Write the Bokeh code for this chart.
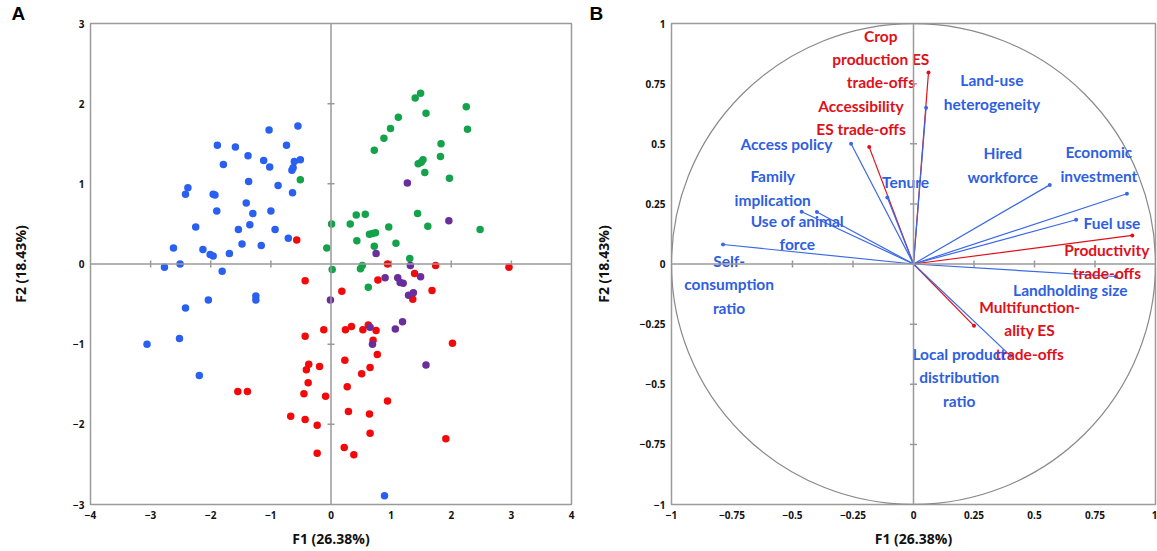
import math
from bokeh.plotting import figure
from bokeh.models import FixedTicker, CustomJSTickFormatter, Range1d, Span
from bokeh.layouts import row
from bokeh.core.properties import value
from bokeh.embed import file_html
from bokeh.resources import INLINE

# ---------------- Panel A data: observation scores (F1, F2) ----------------
blue_x = [-1.03, -0.55, -1.89, -1.59, -0.74, -1.38, -1.12, -1.02, -0.61, -0.51, -1.79, -0.65, -0.63,
          -1.37, -2.38, -2.42, -1.96, -1.93, -0.88, -0.64, -1.41, -1.90, -1.30, -1.00, -2.25, -1.54,
          -1.35, -0.93, -0.71, -2.62, -2.13, -2.01, -1.96, -1.69, -1.48, -1.16, -2.77, -2.51, -1.81,
          -2.04, -1.25, -1.25, -2.42, -2.52, -3.06, -2.19, 0.89]
blue_y = [1.67, 1.72, 1.48, 1.46, 1.48, 1.35, 1.29, 1.21, 1.28, 1.30, 1.24, 1.17, 1.20,
          1.03, 0.95, 0.87, 0.87, 0.86, 0.98, 0.89, 0.76, 0.66, 0.63, 0.66, 0.46, 0.43,
          0.49, 0.43, 0.32, 0.20, 0.18, 0.12, 0.10, 0.13, 0.25, 0.23, -0.04, 0.00, -0.09,
          -0.45, -0.40, -0.45, -0.55, -0.93, -1.00, -1.39, -2.89]

green_x = [-0.51, 0.01, -0.07, 0.02, 1.31, 0.52, 0.49, 0.62, 1.49, 1.40, 2.25, 1.58, 1.12, 0.99,
           0.88, 2.27, 0.72, 1.83, 1.82, 1.45, 1.50, 1.53, 1.56, 1.97, 1.44, 1.61, 2.48, 0.32,
           0.42, 0.57, 0.96, 0.64, 0.69, 0.74, 0.43, 1.08, 0.72]
green_y = [1.05, 0.50, 0.20, -0.07, 0.07, -0.02, -0.06, -0.29, 2.13, 2.07, 1.96, 1.88, 1.83, 1.69,
           1.57, 1.68, 1.42, 1.50, 1.34, 1.25, 1.27, 1.30, 1.14, 1.07, 0.63, 0.47, 0.43, 0.50,
           0.61, 0.62, 0.46, 0.37, 0.38, 0.39, 0.29, 0.26, 0.22]

red_x = [-0.57, 0.94, 1.74, 2.96, -0.43, 0.78, 1.39, 0.18, 1.68, 1.36, -0.12, 0.24, 0.34, 0.53,
         0.62, 0.75, -0.43, 0.70, 2.02, 0.77, 0.23, -0.37, -0.41, -0.19, 0.65, 0.51, -0.38, 0.27,
         -1.55, -1.39, -0.45, -0.09, 0.94, -0.67, -0.43, -0.23, 0.29, 0.64, 0.65, 1.91, -0.23,
         0.22, 0.38]
red_y = [0.30, 0.00, -0.02, -0.04, -0.21, -0.20, -0.12, -0.34, -0.33, -0.44, -0.82, -0.82, -0.78,
         -0.82, -0.76, -0.83, -0.90, -0.95, -0.99, -1.13, -1.20, -1.25, -1.32, -1.28, -1.29, -1.37,
         -1.48, -1.53, -1.59, -1.59, -1.62, -1.65, -1.71, -1.90, -1.94, -2.01, -1.84, -1.87, -2.11,
         -2.18, -2.36, -2.29, -2.38]

purple_x = [1.27, 1.96, 0.75, 1.32, 0.90, 1.49, 1.11, 1.15, 1.20, 1.29, 1.37, -0.01, 0.65, 1.07,
            1.19, 0.69, 1.58]
purple_y = [1.01, 0.54, 0.13, -0.02, -0.17, -0.16, -0.17, -0.23, -0.24, -0.39, -0.36, -0.45, -0.79,
            -0.81, -0.72, -1.00, -1.26]

# ---------------- Panel B data: variable loadings ----------------
var_labels = ["Crop\nproduction ES\ntrade-offs", "Land-use\nheterogeneity", "Accessibility\nES trade-offs",
              "Access policy", "Tenure", "Family\nimplication", "Use of animal\nforce",
              "Self-\nconsumption\nratio", "Hired\nworkforce", "Economic\ninvestment", "Fuel use",
              "Productivity\ntrade-offs", "Landholding size", "Multifunction-\nality ES\ntrade-offs",
              "Local product\ndistribution\nratio"]
var_f1 = [0.062, 0.052, -0.183, -0.258, -0.108, -0.462, -0.399, -0.787, 0.563, 0.882, 0.672, 0.904,
          0.836, 0.250, 0.400]
var_f2 = [0.796, 0.650, 0.486, 0.500, 0.276, 0.217, 0.216, 0.081, 0.329, 0.292, 0.184, 0.119,
          -0.052, -0.257, -0.381]
var_is_tradeoff = [True, False, True, False, False, False, False, False, False, False, False, True,
                   False, True, False]

x_ticks_a = [-4, -3, -2, -1, 0, 1, 2, 3, 4]
y_ticks_a = [-3, -2, -1, 0, 1, 2, 3]
ticks_b = [-1, -0.75, -0.5, -0.25, 0, 0.25, 0.5, 0.75, 1]

# ---------------- layout / style (not data) ----------------
label_pos_x = [-0.135, 0.324, -0.217, -0.525, -0.033, -0.582, -0.480, -0.762, 0.369, 0.766, 0.820,
               0.799, 0.648, 0.480, 0.189]
label_pos_y = [0.852, 0.715, 0.609, 0.500, 0.340, 0.316, 0.131, -0.084, 0.412, 0.416, 0.172,
               0.010, -0.107, -0.275, -0.471]

GREY = "#9a9a9a"
C_BLUE = "#2a60f0"
C_GREEN = "#14a24a"
C_RED = "#f20a0a"
C_PURPLE = "#6a2d9c"
T_BLUE = "#2f5fe0"
T_RED = "#e0101a"
FONT = "Open Sans"

H = 550
TOP = 20
BOTTOM = 44

minus_fmt = CustomJSTickFormatter(code="return tick < 0 ? '\\u2212' + (-tick) : '' + tick;")


def style(p, xt, yt, ylab_standoff, letter, letter_offset):
    p.outline_line_color = GREY
    p.outline_line_width = 1.5
    p.xgrid.grid_line_color = None
    p.ygrid.grid_line_color = None
    p.title.text = letter
    p.title.align = "left"
    p.title.offset = letter_offset
    p.title.standoff = 0
    p.title.text_font = "Liberation Sans"
    p.title.text_font_style = "bold"
    p.title.text_font_size = "19px"
    p.title.text_color = "#000000"
    for ax, t in ((p.xaxis[0], xt), (p.yaxis[0], yt)):
        ax.ticker = FixedTicker(ticks=t)
        ax.formatter = minus_fmt
        ax.axis_line_color = None
        ax.major_tick_line_color = None
        ax.minor_tick_line_color = None
        ax.major_tick_in = 0
        ax.major_tick_out = 0
        ax.major_label_text_font = FONT
        ax.major_label_text_font_style = "bold"
        ax.major_label_text_font_size = "10px"
        ax.major_label_text_color = "#111111"
        ax.axis_label_text_font = FONT
        ax.axis_label_text_font_style = "bold"
        ax.axis_label_text_font_size = "14px"
        ax.axis_label_text_color = "#111111"
    p.xaxis[0].major_label_standoff = 6
    p.yaxis[0].major_label_standoff = 6
    p.xaxis[0].axis_label_standoff = 7
    p.yaxis[0].axis_label_standoff = ylab_standoff
    # zero lines with small cross ticks
    p.add_layout(Span(location=0, dimension="width", line_color=GREY, line_width=1.5))
    p.add_layout(Span(location=0, dimension="height", line_color=GREY, line_width=1.5))
    xt_in = [t for t in xt if t not in (0, xt[0], xt[-1])]
    yt_in = [t for t in yt if t not in (0, yt[0], yt[-1])]
    p.scatter(xt_in, [0] * len(xt_in), marker="dash", angle=math.pi / 2, size=7,
              line_color=GREY, line_width=1.5)
    p.scatter([0] * len(yt_in), yt_in, marker="dash", size=7, line_color=GREY, line_width=1.5)


# ---------------- Panel A ----------------
pa = figure(width=590, height=H, x_range=Range1d(-4, 4), y_range=Range1d(-3, 3),
            output_backend="svg", toolbar_location=None,
            min_border_left=90, min_border_right=19, min_border_top=TOP, min_border_bottom=BOTTOM,
            x_axis_label="F1 (26.38%)", y_axis_label="F2 (18.43%)")
style(pa, x_ticks_a, y_ticks_a, 40, "A", -79)
pa.scatter(blue_x, blue_y, size=7.5, fill_color=C_BLUE, line_color=None)
pa.scatter(green_x, green_y, size=7.5, fill_color=C_GREEN, line_color=None)
pa.scatter(red_x, red_y, size=7.5, fill_color=C_RED, line_color=None)
pa.scatter(purple_x, purple_y, size=7.5, fill_color=C_PURPLE, line_color=None)

# ---------------- Panel B ----------------
pb = figure(width=567, height=H, x_range=Range1d(-1, 1), y_range=Range1d(-1, 1),
            output_backend="svg", toolbar_location=None,
            min_border_left=78, min_border_right=2, min_border_top=TOP, min_border_bottom=BOTTOM,
            x_axis_label="F1 (26.38%)", y_axis_label="F2 (18.43%)")
style(pb, ticks_b, ticks_b, 24, "B", -82)
pb.ellipse(x=0, y=0, width=2, height=2, fill_color=None, line_color="#8a8a8a", line_width=1.2)

seg_col = [T_RED if t else "#3a68e6" for t in var_is_tradeoff]
txt_col = [T_RED if t else T_BLUE for t in var_is_tradeoff]
x0 = [0] * len(var_f1)
pb.segment(x0=x0, y0=x0, x1=var_f1, y1=var_f2, line_color=seg_col, line_width=1.2)
pb.scatter(var_f1, var_f2, size=4, fill_color=seg_col, line_color=None)
pb.text(x=label_pos_x, y=label_pos_y, text=var_labels, text_align="center", text_baseline="middle",
        text_font=value("Lato"), text_font_style="bold", text_font_size="15.5px",
        text_color=txt_col, text_line_height=1.3)

layout = row(pa, pb)
open("out.html", "w").write(file_html(layout, INLINE))
